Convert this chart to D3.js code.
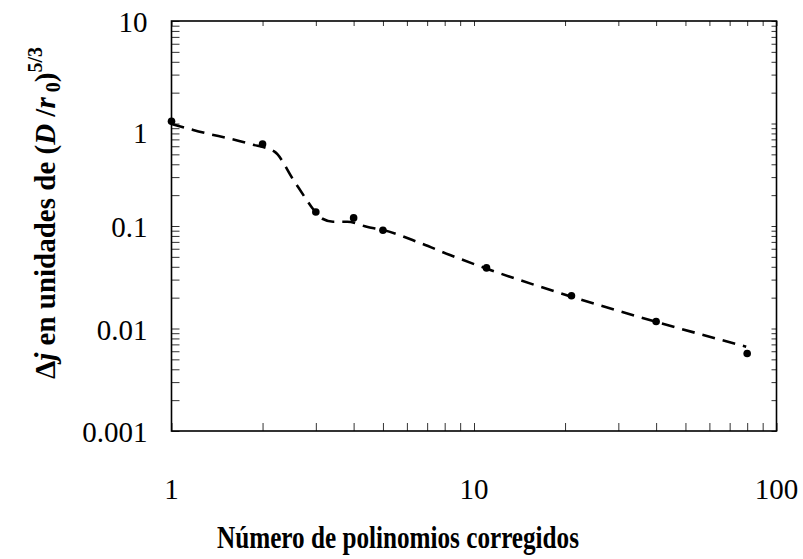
<!DOCTYPE html>
<html>
<head>
<meta charset="utf-8">
<script src="https://cdn.jsdelivr.net/npm/d3@7"></script>
<style>
  body { margin: 0; background: #fff; }
  svg { display: block; }
  svg text { font-family: "Liberation Serif", "Times New Roman", Times, serif; }
</style>
</head>
<body>
<svg id="chart" width="803" height="559"></svg>
<script>
// ---- data ----
const pointX = [1, 2, 3, 4, 5, 11, 21, 40, 80];
const pointY = [1.05, 0.63, 0.137, 0.12, 0.091, 0.039, 0.0209, 0.0117, 0.0057];

const lineX = [1, 1.18, 1.82, 2.19, 2.53, 2.8, 2.92, 3.17, 3.42, 3.81, 4.42, 5, 6.63, 8.33, 10.84, 20.5, 39.9, 79.4];
const lineY = [0.99, 0.864, 0.631, 0.531, 0.281, 0.179, 0.15, 0.117, 0.11, 0.11, 0.0984, 0.0914, 0.0683, 0.0521, 0.039, 0.0209, 0.01165, 0.00665];

const xTickLabels = [1, 10, 100];
const yTickLabels = [10, 1, 0.1, 0.01, 0.001];

const xTitle = "Número de polinomios corregidos";

// ---- layout ----
const svg = d3.select("#chart");
const L = 171.5, R = 776.5, T = 21, B = 431;

const x = d3.scaleLog().domain([1, 100]).range([L, R]);
const y = d3.scaleLog().domain([0.001, 10]).range([B, T]);

const xMinor = x.ticks();
const yMinor = y.ticks();

// inward ticks via axes
function styleAxis(g) {
  g.select(".domain").remove();
  g.selectAll("line").attr("stroke", "#333").attr("stroke-width", 1);
  g.selectAll("text").remove();
}
svg.append("g").attr("transform", `translate(0,${B})`)
  .call(d3.axisBottom(x).tickValues(xMinor).tickSize(-8)).call(styleAxis);
svg.append("g").attr("transform", `translate(0,${T})`)
  .call(d3.axisTop(x).tickValues(xMinor).tickSize(-5)).call(styleAxis);
svg.append("g").attr("transform", `translate(${L},0)`)
  .call(d3.axisLeft(y).tickValues(yMinor).tickSize(-8)).call(styleAxis);
svg.append("g").attr("transform", `translate(${R},0)`)
  .call(d3.axisRight(y).tickValues(yMinor).tickSize(-5)).call(styleAxis);

// frame
svg.append("rect").attr("x", L).attr("y", T).attr("width", R - L).attr("height", B - T)
  .attr("fill", "none").attr("stroke", "#000").attr("stroke-width", 1.6);

// tick labels
svg.append("g").selectAll("text").data(xTickLabels).join("text")
  .attr("x", d => x(d)).attr("y", B + 68)
  .attr("text-anchor", "middle").attr("font-size", 29)
  .text(d => String(d));
svg.append("g").selectAll("text").data(yTickLabels).join("text")
  .attr("x", L - 24).attr("y", d => y(d) + (d === 1 ? 9 : 1))
  .attr("dy", "0.35em")
  .attr("text-anchor", "end").attr("font-size", 29)
  .text(d => String(d));

// axis titles
svg.append("text").attr("x", 398).attr("y", 548)
  .attr("text-anchor", "middle").attr("font-size", 31).attr("font-weight", "bold")
  .attr("textLength", 362).attr("lengthAdjust", "spacingAndGlyphs")
  .text(xTitle);

const yt = svg.append("text")
  .attr("transform", `translate(55,213) rotate(-90)`)
  .attr("text-anchor", "middle").attr("font-size", 29).attr("font-weight", "bold");
yt.append("tspan").text("Δ");
yt.append("tspan").attr("font-style", "italic").text("j");
yt.append("tspan").text(" en unidades de (");
yt.append("tspan").attr("font-style", "italic").text("D");
yt.append("tspan").text(" /");
yt.append("tspan").attr("font-style", "italic").text("r");
yt.append("tspan").attr("font-size", 20).attr("dy", 5).text(" 0");
yt.append("tspan").attr("dy", -5).text(")");
yt.append("tspan").attr("font-size", 20).attr("dy", -13).text("5/3");

// dashed line
const lineData = lineX.map((v, i) => [v, lineY[i]]);
svg.append("path").datum(lineData)
  .attr("fill", "none").attr("stroke", "#000").attr("stroke-width", 2.6)
  .attr("stroke-dasharray", "13,8")
  .attr("d", d3.line().x(d => x(d[0])).y(d => y(d[1])).curve(d3.curveMonotoneX));

// points
const pts = pointX.map((v, i) => [v, pointY[i]]);
svg.append("g").selectAll("circle").data(pts).join("circle")
  .attr("cx", d => x(d[0])).attr("cy", d => y(d[1])).attr("r", 3.8).attr("fill", "#000");
</script>
</body>
</html>
